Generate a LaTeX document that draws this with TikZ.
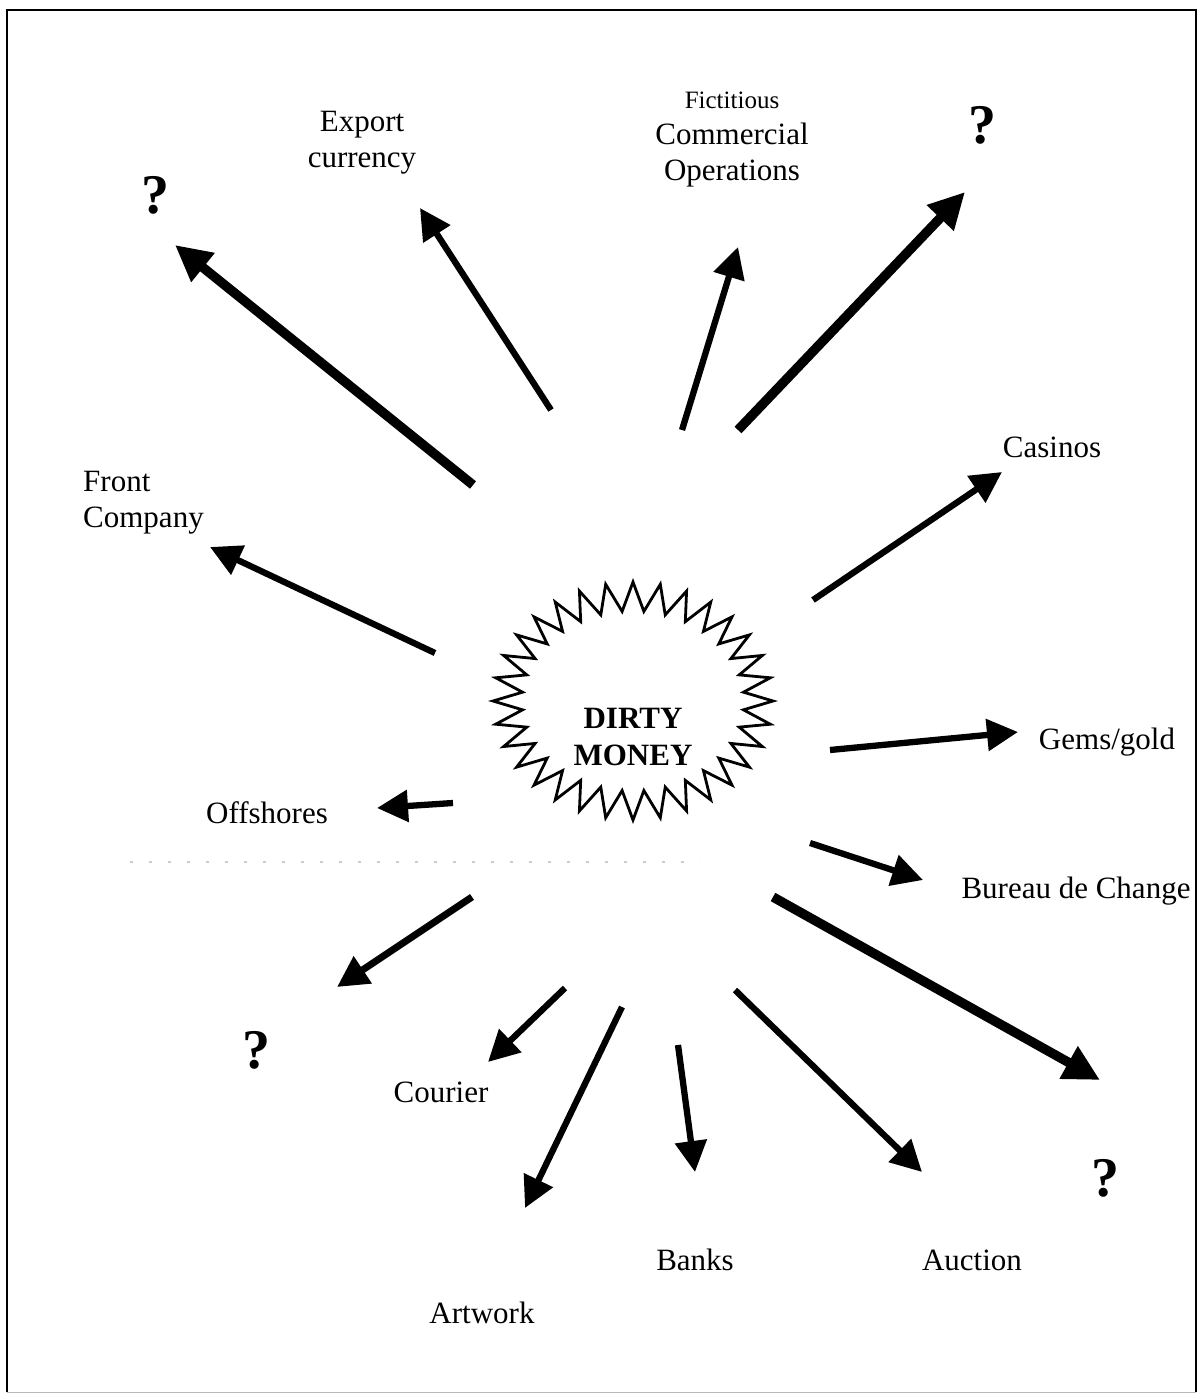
\documentclass[tikz,border=0pt]{standalone}
\usepackage{fontspec}
\setmainfont{Liberation Serif}
\usetikzlibrary{arrows.meta}
\tikzset{
  thinarrow/.style={line width=6.3pt, -{Triangle[length=31pt,width=31pt]}},
  thickarrow/.style={line width=9.5pt, -{Triangle[length=36pt,width=35pt]}},
  lbl/.style={font=\fontsize{31}{36}\selectfont, inner sep=0pt, align=center},
  qmark/.style={font=\fontsize{56}{56}\selectfont\bfseries, inner sep=0pt},
  starline/.style={line width=2.8pt, line join=miter},
  frameline/.style={line width=2.4pt},
}
\begin{document}
\begin{tikzpicture}[x=1pt,y=-1pt]
\useasboundingbox (0,0) rectangle (1203,1399);
% frame
\draw[frameline] (7,1392) -- (7,10) -- (1196,10) -- (1196,1392);
\draw[gray!55, line width=1pt] (7,1392) -- (1196,1392);
% faint scan line
\draw[gray!40, line width=1.5pt, dash pattern=on 3pt off 16pt] (130,862) -- (700,862);
% star
\begin{scope}[shift={(633,701)}]
\draw[starline] (5.625:111 and 90)
  \foreach \i in {1,...,31}{ -- ({\i*11.25}:140 and 119) -- ({\i*11.25+5.625}:111 and 90)}
  -- (0:140 and 119) -- cycle;
\end{scope}
\node[lbl, font=\fontsize{31}{37}\selectfont\bfseries] (dm) at (633,737) {DIRTY\\MONEY};
% labels
\node[qmark] (qtl) at (155,195) {?};
\node[lbl] (export) at (362,143) {Export\\currency};
\node[lbl] (fict) at (732,140) {{\fontsize{25}{30}\selectfont Fictitious}\\Commercial\\Operations};
\node[qmark] (qtr) at (982,125) {?};
\node[lbl] (casinos) at (1052,447) {Casinos};
\node[lbl, anchor=west, align=left] (front) at (83,503) {Front\\Company};
\node[lbl] (gems) at (1107,742) {Gems/gold};
\node[lbl] (off) at (267,813) {Offshores};
\node[lbl] (bureau) at (1076,891) {Bureau de Change};
\node[qmark] (qbl) at (256,1050) {?};
\node[lbl] (courier) at (441,1092) {Courier};
\node[lbl] (artwork) at (482,1313) {Artwork};
\node[lbl] (banks) at (695,1260) {Banks};
\node[lbl] (auction) at (972,1260) {Auction};
\node[qmark] (qbr) at (1105,1178) {?};
% arrow ends
\coordinate (t1) at (473,485);  \coordinate (h1) at (175,245);
\coordinate (t2) at (551,410);  \coordinate (h2) at (420,208);
\coordinate (t3) at (682,430);  \coordinate (h3) at (738,247);
\coordinate (t4) at (738,430);  \coordinate (h4) at (965,192);
\coordinate (t5) at (813,600);  \coordinate (h5) at (1002,472);
\coordinate (t6) at (435,653);  \coordinate (h6) at (210,547);
\coordinate (t7) at (830,750);  \coordinate (h7) at (1018,732);
\coordinate (t8) at (453,803);  \coordinate (h8) at (377,808);
\coordinate (t9) at (810,843);  \coordinate (h9) at (923,880);
\coordinate (t10) at (472,897); \coordinate (h10) at (337,987);
\coordinate (t11) at (565,988); \coordinate (h11) at (488,1062);
\coordinate (t12) at (622,1007);\coordinate (h12) at (525,1208);
\coordinate (t13) at (678,1045);\coordinate (h13) at (695,1172);
\coordinate (t14) at (735,990); \coordinate (h14) at (922,1172);
\coordinate (t15) at (773,897); \coordinate (h15) at (1100,1080);
% arrows
\draw[thickarrow] (t1) -- (h1);
\draw[thinarrow] (t2) -- (h2);
\draw[thinarrow] (t3) -- (h3);
\draw[thickarrow] (t4) -- (h4);
\draw[thinarrow] (t5) -- (h5);
\draw[thinarrow] (t6) -- (h6);
\draw[thinarrow] (t7) -- (h7);
\draw[thinarrow] (t8) -- (h8);
\draw[thinarrow] (t9) -- (h9);
\draw[thinarrow, line width=7pt] (t10) -- (h10);
\draw[thinarrow] (t11) -- (h11);
\draw[thinarrow] (t12) -- (h12);
\draw[thinarrow] (t13) -- (h13);
\draw[thinarrow] (t14) -- (h14);
\draw[thickarrow] (t15) -- (h15);
\end{tikzpicture}
\end{document}
